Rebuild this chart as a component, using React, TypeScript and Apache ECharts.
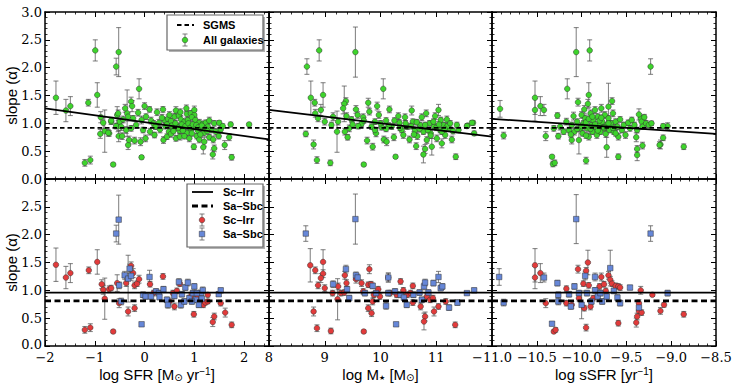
import React, { useEffect, useRef } from 'react';
import * as echarts from 'echarts';

// ---------- data: [x, slope, error] ----------
const allSfr = [
  [-1.78,1.46,0.30],[-1.58,1.23,0.20],[-1.49,1.31,0.17],[-1.20,0.29,0.06],[-1.09,0.34,0.07],[-1.13,1.37,0.06],[-0.99,2.31,0.19],[-0.95,1.51,0.22],[-0.88,1.11,0.10],[-0.89,0.81,0.08],[-0.80,0.86,0.38],[-0.71,0.82,0.05],[-0.67,1.03,0.05],[-0.63,0.26,0.03],[-0.57,2.02,0.15],[-0.52,2.28,0.44],[-0.55,1.15,0.15],[-0.53,0.95,0.10],[-0.52,0.77,0.10],[-0.11,1.62,0.18],[-0.06,0.39,0.03],[-0.33,0.61,0.08],[1.73,0.98,0.04],[2.10,0.98,0.03],[1.75,0.39,0.05],[1.61,0.61,0.08],[1.37,0.44,0.08],[1.40,0.55,0.06],[0.99,0.58,0.05],[1.18,0.57,0.12],[-0.35,1.18,0.42],
  [-0.27,1.39,0.08],[-0.25,1.31,0.10],[-0.39,1.27,0.07],[-0.53,1.18,0.06],[0.0,1.31,0.06],[0.10,1.25,0.05],[0.25,1.20,0.06],[0.37,1.25,0.05],[0.63,1.23,0.07],[0.85,1.17,0.06],[0.93,1.18,0.05],[1.0,1.15,0.06],
  [-0.83,1.01,0.10],[-0.67,1.05,0.06],[-0.50,1.03,0.07],[-0.43,1.07,0.06],[-0.33,1.12,0.08],[-0.23,1.09,0.05],[-0.13,1.19,0.06],[-0.06,1.06,0.07],[0.03,1.12,0.05],[0.13,1.05,0.06],[0.18,1.0,0.05],[0.29,1.01,0.06],[0.40,1.06,0.05],[0.47,1.08,0.07],[0.53,1.04,0.05],[0.60,1.12,0.06],[0.69,1.14,0.05],[0.73,1.07,0.06],[0.80,1.03,0.05],[0.87,1.06,0.05],[0.95,1.11,0.07],[1.02,1.06,0.05],[1.10,1.01,0.06],[1.17,0.99,0.05],[1.23,1.01,0.05],[1.30,1.05,0.06],[1.40,1.0,0.05],[1.50,1.01,0.04],
  [-0.73,0.83,0.06],[-0.57,0.95,0.05],[-0.47,0.94,0.07],[-0.37,0.88,0.06],[-0.27,0.91,0.05],[-0.17,0.97,0.06],[-0.03,0.88,0.05],[0.11,0.85,0.06],[0.22,0.94,0.05],[0.31,0.89,0.06],[0.42,0.95,0.05],[0.49,0.85,0.06],[0.57,0.91,0.05],[0.65,0.95,0.05],[0.70,0.87,0.06],[0.78,0.93,0.05],[0.85,0.83,0.06],[0.93,0.89,0.05],[1.0,0.94,0.05],[1.07,0.87,0.06],[1.13,0.91,0.05],[1.20,0.83,0.06],[1.27,0.94,0.05],[1.33,0.88,0.05],[1.43,0.85,0.06],[1.53,0.89,0.05],[1.57,0.95,0.04],
  [-0.45,0.77,0.06],[-0.31,0.70,0.07],[-0.20,0.69,0.06],[-0.08,0.67,0.07],[0.02,0.73,0.06],[0.20,0.79,0.05],[0.38,0.70,0.06],[0.45,0.76,0.05],[0.53,0.81,0.06],[0.63,0.73,0.05],[0.71,0.76,0.06],[0.80,0.77,0.05],[0.90,0.73,0.06],[1.05,0.77,0.05],[1.10,0.71,0.06],[1.20,0.67,0.08],[1.30,0.75,0.05],[1.38,0.71,0.06],[1.49,0.77,0.05],[1.70,0.75,0.06],
  [0.45,0.98,0.05],[0.55,0.96,0.05],[0.62,1.0,0.05],[0.68,0.92,0.05],[0.75,0.98,0.05],[0.82,0.95,0.05],[0.88,1.0,0.05],[0.92,0.92,0.05],[0.97,0.98,0.05],[1.04,0.97,0.05],[1.08,0.93,0.05],[1.15,0.96,0.05],[1.22,0.90,0.05],[1.26,0.86,0.05],[0.58,0.86,0.05],[0.77,0.87,0.05],[0.95,0.82,0.05],[1.12,0.80,0.05],[0.35,1.10,0.06],[0.50,1.15,0.06],[0.72,1.20,0.06],[1.0,1.24,0.07],[0.84,1.27,0.06],
];

const allMass = [
  [8.68,2.02,0.14],[8.90,2.31,0.19],[9.55,2.28,0.45],[8.75,1.46,0.30],[8.82,1.37,0.06],[8.97,1.51,0.22],[10.05,1.62,0.18],[8.66,0.81,0.05],[8.80,0.62,0.08],[8.86,0.34,0.06],[9.10,0.29,0.05],[9.70,0.26,0.03],[10.27,0.40,0.03],[11.35,0.40,0.05],[9.22,0.85,0.37],[9.38,1.40,0.06],[9.35,1.35,0.32],[11.66,1.01,0.04],[11.56,0.96,0.03],[11.68,0.82,0.04],[10.77,0.44,0.15],[10.80,0.54,0.08],[10.64,0.59,0.06],[10.92,0.58,0.15],[11.10,0.64,0.08],
  [8.83,1.18,0.07],[8.93,1.24,0.10],[8.88,1.09,0.06],[9.0,1.03,0.06],[9.12,0.97,0.05],[9.15,1.12,0.07],[9.24,1.03,0.06],[9.33,1.27,0.10],[9.39,1.13,0.06],[9.36,0.85,0.06],[9.41,0.75,0.05],[9.48,1.07,0.05],[9.44,0.91,0.06],[9.56,1.25,0.07],[9.59,1.15,0.06],[9.66,0.99,0.05],[9.69,1.11,0.06],[9.76,0.69,0.06],[9.78,1.37,0.08],[9.80,1.21,0.06],[9.84,0.94,0.05],[9.86,0.58,0.06],[9.90,1.03,0.05],[9.92,0.82,0.06],[9.94,1.31,0.07],[9.97,1.15,0.06],[10.02,0.93,0.05],[10.06,0.71,0.06],[10.11,0.67,0.07],[10.10,1.05,0.05],[10.16,1.25,0.06],[10.20,0.94,0.05],[10.24,0.75,0.06],[10.32,1.13,0.06],[10.34,1.01,0.05],[10.38,0.88,0.05],[10.41,0.79,0.06],[10.44,1.11,0.06],[10.48,0.94,0.05],[10.52,0.71,0.06],[10.56,1.23,0.08],[10.58,1.03,0.05],[10.62,0.88,0.05],[10.66,0.77,0.06],[10.71,0.97,0.05],[10.74,1.11,0.06],[10.77,0.85,0.05],[10.82,1.18,0.06],[10.83,0.70,0.06],[10.88,1.00,0.05],[10.90,0.82,0.05],[10.96,0.94,0.05],[10.98,1.13,0.06],[11.01,0.73,0.06],[11.04,1.24,0.10],[11.07,0.88,0.05],[11.08,1.06,0.05],[11.13,0.97,0.05],[11.16,0.79,0.06],[11.19,1.07,0.06],[11.23,0.91,0.05],[11.28,0.71,0.06],[11.37,0.97,0.05],[11.40,0.88,0.05],[11.55,0.95,0.04],[11.64,1.01,0.04],
  [10.0,1.0,0.05],[10.15,0.96,0.05],[10.25,1.05,0.05],[10.35,0.92,0.05],[10.45,1.0,0.05],[10.55,0.95,0.05],[10.65,1.02,0.05],[10.70,0.90,0.05],[10.80,0.97,0.05],[10.85,0.88,0.05],[10.95,1.03,0.05],[11.0,0.92,0.05],[11.05,0.98,0.05],[11.10,0.85,0.05],[11.20,0.95,0.05],[11.25,1.0,0.05],[11.30,0.86,0.05],[10.60,0.80,0.05],[10.90,0.78,0.05],[11.15,0.90,0.05],[9.60,0.95,0.05],[9.70,1.05,0.05],[9.50,0.98,0.05],[9.90,0.88,0.05],[10.10,0.90,0.05],
];

const allSsfr = [
  [-10.06,2.28,0.44],[-9.91,2.31,0.19],[-9.23,2.02,0.14],[-10.16,1.62,0.18],[-10.91,1.26,0.15],[-10.87,0.78,0.06],[-10.52,1.46,0.30],[-10.52,1.24,0.20],[-10.46,1.31,0.17],[-10.42,1.24,0.10],[-10.40,0.77,0.08],[-10.33,0.40,0.03],[-10.32,0.27,0.05],[-10.30,0.29,0.05],[-10.27,1.14,0.05],[-10.04,1.38,0.07],[-9.95,0.33,0.06],[-9.92,1.51,0.22],[-9.72,0.57,0.18],[-9.70,1.30,0.42],[-9.66,1.40,0.06],[-9.59,0.40,0.05],[-9.38,0.54,0.06],[-9.38,0.43,0.10],[-9.39,0.75,0.08],[-9.32,0.60,0.06],[-9.12,0.62,0.08],[-9.09,0.74,0.05],[-8.86,0.58,0.05],[-9.04,0.95,0.06],[-9.09,0.95,0.04],[-9.34,1.09,0.05],[-9.36,1.16,0.10],
  [-10.31,0.91,0.05],[-10.26,0.77,0.05],[-10.24,0.94,0.06],[-10.20,0.85,0.05],[-10.17,1.03,0.06],[-10.14,0.88,0.05],[-10.11,0.70,0.07],[-10.11,0.97,0.05],[-10.09,1.13,0.07],[-10.08,0.85,0.06],[-10.05,1.03,0.05],[-10.03,0.70,0.25],[-10.01,0.91,0.05],[-10.0,1.15,0.06],[-9.99,0.82,0.05],[-9.98,1.00,0.05],[-9.97,1.25,0.07],[-9.96,1.09,0.06],[-9.94,0.91,0.05],[-9.93,1.35,0.08],[-9.92,0.76,0.06],[-9.90,1.18,0.06],[-9.89,0.97,0.05],[-9.88,0.85,0.05],[-9.87,1.06,0.05],[-9.85,1.24,0.06],[-9.84,0.94,0.05],[-9.83,0.79,0.06],[-9.82,1.12,0.05],[-9.80,0.97,0.05],[-9.79,0.85,0.05],[-9.78,1.27,0.07],[-9.77,1.03,0.05],[-9.75,0.91,0.05],[-9.74,1.15,0.06],[-9.73,0.81,0.06],[-9.72,0.97,0.05],[-9.70,1.09,0.05],[-9.69,0.88,0.05],[-9.67,1.00,0.05],[-9.65,1.18,0.06],[-9.64,0.85,0.05],[-9.62,1.03,0.05],[-9.60,0.94,0.05],[-9.59,0.76,0.06],[-9.57,1.07,0.05],[-9.55,0.88,0.05],[-9.53,0.97,0.05],[-9.51,0.79,0.06],[-9.48,1.01,0.05],[-9.46,0.91,0.05],[-9.44,1.06,0.05],[-9.41,0.97,0.05],[-9.38,0.88,0.05],[-9.33,1.03,0.06],[-9.32,0.94,0.05],[-9.30,1.11,0.05],[-9.28,1.00,0.05],[-9.25,0.97,0.05],[-9.22,1.00,0.04],[-9.13,0.61,0.06],
  [-10.0,0.95,0.05],[-9.95,1.02,0.05],[-9.90,0.90,0.05],[-9.85,0.98,0.05],[-9.80,1.05,0.05],[-9.75,0.93,0.05],[-9.70,1.00,0.05],[-9.65,0.92,0.05],[-10.05,0.90,0.05],[-9.92,1.08,0.05],[-9.82,0.87,0.05],[-9.78,1.10,0.05],[-9.88,1.12,0.05],[-10.12,0.80,0.05],[-9.95,0.78,0.05],[-9.62,0.82,0.05],
];

const scIrrSfr = [
  [-1.78,1.46,0.30],[-1.58,1.23,0.20],[-1.49,1.31,0.17],[-1.12,1.36,0.06],[-0.95,1.51,0.22],[-1.20,0.29,0.06],[-1.09,0.33,0.07],[-0.63,0.26,0.03],[-0.86,1.11,0.08],[-0.83,1.01,0.08],[-0.80,0.85,0.37],[-0.71,1.02,0.06],[-0.67,1.04,0.05],[-0.55,1.13,0.15],[-0.51,0.77,0.08],[-0.37,1.13,0.06],[-0.27,1.44,0.07],[-0.23,1.31,0.08],[-0.20,1.09,0.06],[-0.15,1.12,0.05],[-0.11,1.20,0.07],[-0.33,0.62,0.08],[-0.20,0.68,0.06],[0.11,1.11,0.05],[0.18,0.95,0.05],[0.37,1.25,0.05],[0.50,0.80,0.06],[0.57,0.95,0.05],[0.60,0.71,0.06],[0.65,0.99,0.05],[0.71,1.12,0.05],[0.93,0.89,0.05],[0.99,0.57,0.05],[1.07,0.89,0.05],[1.10,0.78,0.05],[1.18,0.74,0.05],[1.22,0.78,0.04],[1.27,0.80,0.04],[1.27,0.92,0.04],[1.53,0.77,0.05],[1.40,0.53,0.06],[1.37,0.43,0.08],[1.62,0.60,0.08],[1.75,0.38,0.05],
];
const saSbcSfr = [
  [-0.57,2.02,0.15],[-0.52,2.27,0.44],[-0.06,0.39,0.03],[-0.51,1.09,0.06],[-0.47,0.80,0.06],[-0.40,1.27,0.07],[-0.33,1.21,0.42],[-0.30,1.39,0.08],[-0.27,1.26,0.08],[-0.03,0.92,0.05],[0.02,0.89,0.05],[0.10,1.24,0.12],[0.13,0.89,0.05],[0.23,0.98,0.05],[0.29,0.95,0.05],[0.38,1.02,0.05],[0.45,0.83,0.05],[0.47,0.74,0.06],[0.69,1.15,0.06],[0.73,0.74,0.06],[0.80,0.80,0.05],[0.82,1.05,0.05],[0.87,1.14,0.06],[0.90,0.86,0.05],[0.97,0.95,0.05],[1.0,1.07,0.05],[1.03,0.83,0.05],[1.09,0.74,0.05],[1.13,0.95,0.05],[1.17,1.00,0.06],[1.49,0.93,0.04],[1.53,1.00,0.04],[0.30,0.88,0.05],[0.60,0.90,0.05],[0.75,0.93,0.05],[0.95,0.80,0.05],[1.05,0.95,0.05],[1.15,0.85,0.05],
];

const scIrrMass = [
  [8.74,1.45,0.30],[8.83,1.36,0.06],[8.97,1.51,0.22],[8.97,1.30,0.07],[8.93,1.22,0.08],[8.88,1.09,0.06],[9.00,1.04,0.06],[9.14,0.95,0.05],[9.24,1.07,0.06],[9.29,0.95,0.05],[9.23,0.84,0.37],[9.36,1.27,0.07],[9.39,1.13,0.06],[9.35,0.96,0.05],[8.80,0.62,0.08],[8.86,0.32,0.06],[9.11,0.27,0.05],[9.70,0.26,0.03],[9.56,1.20,0.07],[9.66,1.13,0.06],[9.69,0.98,0.05],[9.78,1.10,0.05],[9.80,1.38,0.08],[9.83,1.11,0.05],[9.88,0.92,0.05],[9.86,0.80,0.06],[9.78,0.68,0.06],[9.84,0.59,0.06],[9.96,1.02,0.05],[9.99,0.89,0.05],[10.17,0.95,0.05],[10.29,0.92,0.05],[10.36,1.16,0.05],[10.41,1.00,0.05],[10.48,0.92,0.05],[10.58,1.08,0.05],[10.58,0.78,0.05],[10.72,0.71,0.06],[10.80,0.53,0.08],[10.78,0.44,0.15],[10.83,0.89,0.05],[10.89,0.83,0.05],[10.96,0.62,0.08],[10.94,0.86,0.05],[11.04,0.71,0.05],[11.17,0.80,0.05],[11.34,0.38,0.05],[10.54,0.95,0.05],[10.14,1.23,0.08],
];
const saSbcMass = [
  [8.66,2.02,0.14],[9.55,2.28,0.45],[9.15,1.11,0.06],[9.38,1.38,0.07],[9.40,1.02,0.05],[9.44,0.86,0.05],[9.56,1.27,0.06],[9.59,1.23,0.06],[9.72,0.95,0.05],[9.86,1.08,0.05],[9.92,0.95,0.05],[10.14,0.95,0.05],[10.14,1.23,0.08],[10.10,0.72,0.06],[10.26,0.98,0.05],[10.28,0.39,0.03],[10.36,0.92,0.05],[10.42,0.87,0.05],[10.47,0.74,0.05],[10.59,0.92,0.05],[10.70,0.96,0.05],[10.74,0.83,0.05],[10.78,1.07,0.06],[10.80,1.14,0.06],[10.86,0.96,0.05],[10.95,1.13,0.05],[11.04,1.24,0.10],[11.08,1.04,0.05],[11.11,1.07,0.05],[11.23,0.69,0.05],[11.38,0.78,0.05],[11.55,0.95,0.03],[11.68,1.00,0.04],
];

const scIrrSsfr = [
  [-10.52,1.45,0.30],[-10.52,1.23,0.20],[-10.46,1.31,0.17],[-10.40,0.77,0.08],[-10.31,0.26,0.03],[-10.29,0.29,0.04],[-10.17,1.03,0.05],[-10.17,0.77,0.05],[-10.11,0.74,0.06],[-10.04,1.38,0.07],[-10.03,0.86,0.05],[-9.98,1.12,0.05],[-9.95,1.35,0.06],[-9.93,1.50,0.22],[-9.92,1.09,0.05],[-9.97,0.68,0.05],[-9.90,0.71,0.06],[-9.95,0.33,0.06],[-9.87,0.86,0.05],[-9.80,1.07,0.05],[-9.78,1.24,0.07],[-9.75,1.11,0.05],[-9.73,0.99,0.05],[-9.70,1.27,0.07],[-9.68,1.19,0.06],[-9.66,1.12,0.05],[-9.62,1.08,0.05],[-9.59,1.07,0.05],[-9.59,0.41,0.05],[-9.57,1.05,0.05],[-9.34,1.00,0.07],[-9.36,0.77,0.06],[-9.36,0.63,0.06],[-9.33,0.60,0.05],[-9.38,0.53,0.06],[-9.39,0.42,0.08],[-9.21,0.92,0.03],[-9.08,0.74,0.04],[-9.12,0.63,0.06],[-8.86,0.57,0.05],
];
const saSbcSsfr = [
  [-10.06,2.28,0.44],[-9.23,2.02,0.14],[-10.92,1.24,0.15],[-10.87,0.78,0.06],[-10.42,1.23,0.08],[-10.27,1.13,0.05],[-10.33,0.40,0.03],[-10.26,0.92,0.05],[-10.26,0.80,0.06],[-10.14,0.93,0.05],[-10.12,0.71,0.05],[-10.08,1.07,0.05],[-10.03,0.95,0.05],[-10.00,0.74,0.25],[-9.96,1.26,0.07],[-9.94,0.95,0.05],[-9.89,0.80,0.05],[-9.85,1.24,0.07],[-9.85,1.00,0.05],[-9.82,0.89,0.05],[-9.79,0.95,0.05],[-9.77,0.80,0.05],[-9.72,0.89,0.05],[-9.68,1.40,0.32],[-9.64,0.99,0.05],[-9.60,0.87,0.05],[-9.57,0.77,0.05],[-9.46,1.05,0.04],[-9.36,0.69,0.05],[-9.04,0.95,0.05],
];

// fitted relations (endpoints at the axis limits)
const fitSfr = [[-2, 1.27], [2.5, 0.71]];
const fitMass = [[8, 1.24], [12, 0.76]];
const fitSsfr = [[-11, 1.08], [-8.5, 0.81]];
const SGMS = 0.92;
const SC_IRR = 0.96;
const SA_SBC = 0.81;

const xRanges = [
  { min: -2, max: 2.5, interval: 1, dec: 0, hideMax: true },
  { min: 8, max: 12, interval: 1, dec: 0, hideMax: true },
  { min: -11, max: -8.5, interval: 0.5, dec: 1, hideMax: false },
];
const yRange = { min: 0, max: 3, interval: 0.5 };

const xNames = [
  '{a|log SFR [M}{s|\u2299}{a| yr}{p|\u22121}{a|]}',
  '{a|log M}{t|\u2605}{a| [M}{s|\u2299}{a|]}',
  '{a|log sSFR [yr}{p|\u22121}{a|]}',
];

const GREEN = '#3ed42c';
const RED = '#e23b3b';
const BLUE = '#6687d8';
const ERR = 'rgba(85,85,85,0.7)';

const SANS = 'Liberation Sans';
const SERIF = 'DejaVu Serif';

function fmt(v: number, dec: number) {
  const s = Math.abs(v).toFixed(dec);
  return v < 0 ? '\u2212' + s : s;
}

function renderErr(params: any, api: any) {
  const x = api.value(0), y = api.value(1), e = api.value(2);
  const top = api.coord([x, y + e]);
  const bot = api.coord([x, y - e]);
  const cw = 2.5;
  const style = { stroke: ERR, lineWidth: 1.1, fill: null };
  return {
    type: 'group',
    children: [
      { type: 'line', shape: { x1: top[0], y1: top[1], x2: bot[0], y2: bot[1] }, style },
      { type: 'line', shape: { x1: top[0] - cw, y1: top[1], x2: top[0] + cw, y2: top[1] }, style },
      { type: 'line', shape: { x1: bot[0] - cw, y1: bot[1], x2: bot[0] + cw, y2: bot[1] }, style },
    ],
  };
}

export default function App() {
  const ref = useRef<HTMLDivElement>(null);
  useEffect(() => {
    const chart = echarts.init(ref.current!, null, { renderer: 'svg' });
    const lefts = [45, 269, 492];
    const widths = [224, 223, 224];
    const tops = [12, 179];
    const H = 167;

    const grids: any[] = [];
    const xAxes: any[] = [];
    const yAxes: any[] = [];
    const series: any[] = [];

    const axisLine = { show: true, onZero: false, lineStyle: { color: '#000', width: 1.5 } };
    const axisTick = { show: true, inside: true, length: 5, lineStyle: { color: '#000', width: 1 } };
    const minorTick = { show: true, splitNumber: 5, length: 2.5, lineStyle: { color: '#000', width: 0.8 } };

    const panels = [
      { groups: [{ data: allSfr, color: GREEN, symbol: 'circle' }], fit: fitSfr },
      { groups: [{ data: allMass, color: GREEN, symbol: 'circle' }], fit: fitMass },
      { groups: [{ data: allSsfr, color: GREEN, symbol: 'circle' }], fit: fitSsfr },
      { groups: [{ data: scIrrSfr, color: RED, symbol: 'circle' }, { data: saSbcSfr, color: BLUE, symbol: 'rect' }] },
      { groups: [{ data: scIrrMass, color: RED, symbol: 'circle' }, { data: saSbcMass, color: BLUE, symbol: 'rect' }] },
      { groups: [{ data: scIrrSsfr, color: RED, symbol: 'circle' }, { data: saSbcSsfr, color: BLUE, symbol: 'rect' }] },
    ];

    for (let r = 0; r < 2; r++) {
      for (let c = 0; c < 3; c++) {
        const g = r * 3 + c;
        const xr = xRanges[c];
        grids.push({ left: lefts[c], top: tops[r], width: widths[c], height: H, containLabel: false, outerBoundsMode: 'none' });
        const baseX = {
          type: 'value', gridIndex: g, min: xr.min, max: xr.max, interval: xr.interval,
          axisLine, axisTick, minorTick, splitLine: { show: false }, minorSplitLine: { show: false },
        };
        xAxes.push({
          ...baseX, position: 'bottom',
          axisLabel: {
            show: r === 1, color: '#000', fontFamily: SERIF, fontSize: 13, margin: 6, lineHeight: 11,
            showMaxLabel: !xr.hideMax, showMinLabel: true,
            formatter: (v: number) => fmt(v, xr.dec),
          },
          name: r === 1 ? xNames[c] : '',
          nameLocation: 'middle', nameGap: 20, nameMoveOverlap: false,
          nameTextStyle: {
            color: '#000',
            rich: {
              a: { fontFamily: SANS, fontSize: 15, color: '#000', lineHeight: 17 },
              s: { fontFamily: 'DejaVu Sans', fontSize: 10, color: '#000', padding: [6, 0, 0, 0] },
              t: { fontFamily: 'DejaVu Sans', fontSize: 7, color: '#000', padding: [6, 0, 0, 0] },
              p: { fontFamily: SANS, fontSize: 10, color: '#000', padding: [0, 0, 6, 0] },
            },
          },
        });
        xAxes.push({ ...baseX, position: 'top', axisLabel: { show: false } });
        const baseY = {
          type: 'value', gridIndex: g, min: yRange.min, max: yRange.max, interval: yRange.interval,
          axisLine, axisTick, minorTick, splitLine: { show: false }, minorSplitLine: { show: false },
        };
        yAxes.push({
          ...baseY, position: 'left',
          axisLabel: {
            show: c === 0, color: '#000', fontFamily: SERIF, fontSize: 13, margin: 3, lineHeight: 10,
            showMaxLabel: r === 0, showMinLabel: true,
            formatter: (v: number) => (r === 1 && v === 0 ? '{z|0.0}' : v.toFixed(1)),
            rich: { z: { fontFamily: SERIF, fontSize: 13, color: '#000', lineHeight: 10, padding: [0, 0, 4, 0] } },
          },
          name: c === 0 ? 'slope (\u03b1)' : '',
          nameLocation: 'middle', nameGap: 26, nameMoveOverlap: false,
          nameTextStyle: { color: '#000', fontFamily: SANS, fontSize: 15 },
        });
        yAxes.push({ ...baseY, position: 'right', axisLabel: { show: false } });

        const p = panels[g];
        for (const grp of p.groups) {
          series.push({
            type: 'custom', xAxisIndex: 2 * g, yAxisIndex: 2 * g, renderItem: renderErr,
            data: grp.data, encode: { x: 0, y: 1 }, z: 2, silent: true,
          });
        }
        for (const grp of p.groups) {
          series.push({
            type: 'scatter', xAxisIndex: 2 * g, yAxisIndex: 2 * g, data: grp.data,
            encode: { x: 0, y: 1 },
            symbol: grp.symbol, symbolSize: grp.symbol === 'rect' ? 5.5 : 5.6, z: 3, silent: true,
            itemStyle: { color: grp.color, borderColor: '#333', borderWidth: 0.5, opacity: 1 },
          });
        }
        if (r === 0) {
          series.push({
            type: 'line', xAxisIndex: 2 * g, yAxisIndex: 2 * g, data: (p as any).fit, symbol: 'none', z: 5, silent: true,
            lineStyle: { color: '#000', width: 1.8 },
          });
          series.push({
            type: 'line', xAxisIndex: 2 * g, yAxisIndex: 2 * g, data: [[xr.min, SGMS], [xr.max, SGMS]], symbol: 'none', z: 5, silent: true,
            lineStyle: { color: '#000', width: 1.8, type: [4.5, 3] },
          });
        } else {
          series.push({
            type: 'line', xAxisIndex: 2 * g, yAxisIndex: 2 * g, data: [[xr.min, SC_IRR], [xr.max, SC_IRR]], symbol: 'none', z: 5, silent: true,
            lineStyle: { color: '#000', width: 1.8 },
          });
          series.push({
            type: 'line', xAxisIndex: 2 * g, yAxisIndex: 2 * g, data: [[xr.min, SA_SBC], [xr.max, SA_SBC]], symbol: 'none', z: 5, silent: true,
            lineStyle: { color: '#000', width: 2.8, type: [6, 3.5] },
          });
        }
      }
    }

    const legendFont = `bold 11px "${SANS}"`;
    const errStyle = { stroke: ERR, lineWidth: 1.1 };
    const errMark = (x: number, y: number) => [
      { type: 'line', shape: { x1: x, y1: y - 6, x2: x, y2: y + 6 }, style: errStyle, z: 10 },
      { type: 'line', shape: { x1: x - 2.5, y1: y - 6, x2: x + 2.5, y2: y - 6 }, style: errStyle, z: 10 },
      { type: 'line', shape: { x1: x - 2.5, y1: y + 6, x2: x + 2.5, y2: y + 6 }, style: errStyle, z: 10 },
    ];
    const txt = (x: number, y: number, t: string) => ({
      type: 'text', x, y, z: 11,
      style: { text: t, font: legendFont, fill: '#000', verticalAlign: 'middle', align: 'left' },
    });

    const graphic: any[] = [
      // top legend
      { type: 'rect', shape: { x: 169, y: 17, width: 96, height: 35 }, style: { fill: 'rgba(0,0,0,0.3)' }, z: 8 },
      { type: 'rect', shape: { x: 167, y: 15, width: 96, height: 35 }, style: { fill: '#fff', stroke: '#666', lineWidth: 1.2 }, z: 9 },
      { type: 'line', shape: { x1: 177, y1: 25, x2: 194, y2: 25 }, style: { stroke: '#000', lineWidth: 2, lineDash: [4.5, 3] }, z: 10 },
      txt(203, 25, 'SGMS'),
      ...errMark(185, 40),
      { type: 'circle', shape: { cx: 185, cy: 40, r: 2.8 }, style: { fill: GREEN, stroke: '#333', lineWidth: 0.5 }, z: 11 },
      txt(203, 40, 'All galaxies'),
      // bottom legend
      { type: 'rect', shape: { x: 189, y: 186, width: 76, height: 63 }, style: { fill: 'rgba(0,0,0,0.3)' }, z: 8 },
      { type: 'rect', shape: { x: 187, y: 184, width: 76, height: 63 }, style: { fill: '#fff', stroke: '#666', lineWidth: 1.2 }, z: 9 },
      { type: 'line', shape: { x1: 192, y1: 192, x2: 213, y2: 192 }, style: { stroke: '#000', lineWidth: 1.8 }, z: 10 },
      txt(223, 192, 'Sc\u2013Irr'),
      { type: 'line', shape: { x1: 192, y1: 206, x2: 213, y2: 206 }, style: { stroke: '#000', lineWidth: 2.8, lineDash: [6, 3.5] }, z: 10 },
      txt(223, 206, 'Sa\u2013Sbc'),
      ...errMark(202, 220),
      { type: 'circle', shape: { cx: 202, cy: 220, r: 2.8 }, style: { fill: RED, stroke: '#333', lineWidth: 0.5 }, z: 11 },
      txt(223, 220, 'Sc\u2013Irr'),
      ...errMark(202, 234),
      { type: 'rect', shape: { x: 199.25, y: 231.25, width: 5.5, height: 5.5 }, style: { fill: BLUE, stroke: '#333', lineWidth: 0.5 }, z: 11 },
      txt(223, 234, 'Sa\u2013Sbc'),
    ];

    chart.setOption({
      animation: false,
      backgroundColor: '#fff',
      grid: grids,
      xAxis: xAxes,
      yAxis: yAxes,
      series,
      graphic,
    });
    return () => chart.dispose();
  }, []);
  return <div ref={ref} style={{ position: 'absolute', left: 0, top: 0, width: 737, height: 387 }} />;
}
